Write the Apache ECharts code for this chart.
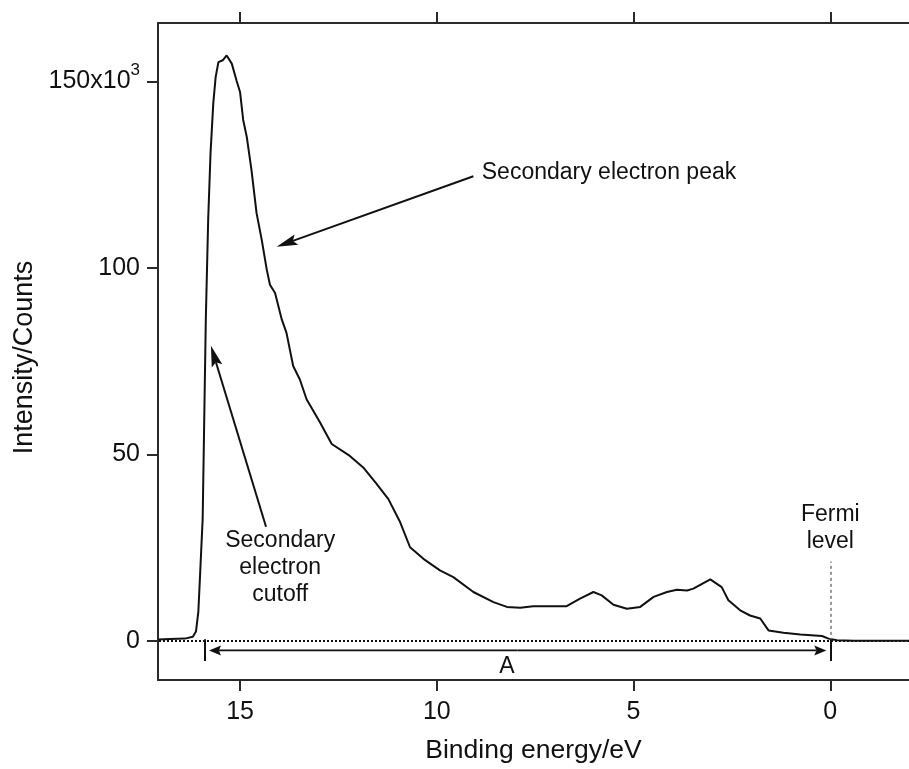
<!DOCTYPE html>
<html><head><meta charset="utf-8">
<script src="https://cdn.jsdelivr.net/npm/echarts@6/dist/echarts.min.js"></script>
<style>html,body{margin:0;padding:0;background:#fff}#c{width:909px;height:769px}</style>
</head><body><div id="c"></div>
<script>
// Binding energy (eV) and intensity (x10^3 counts)
const energy = [17.08,16.78,16.40,16.20,16.12,16.06,16.02,15.95,15.91,15.87,15.81,15.75,15.68,15.62,15.55,15.44,15.34,15.21,15.09,15.00,14.92,14.83,14.71,14.58,14.45,14.32,14.24,14.11,13.94,13.82,13.65,13.48,13.31,12.97,12.67,12.21,11.87,11.53,11.23,10.93,10.68,10.34,9.92,9.58,9.07,8.56,8.22,7.88,7.55,6.70,6.36,6.02,5.81,5.51,5.17,4.83,4.49,4.15,3.90,3.64,3.48,3.05,2.76,2.59,2.29,2.04,1.78,1.57,1.19,0.76,0.21,0.045,-0.17,-0.59,-2.0];
const intensity = [0.35,0.5,0.6,1.1,2.5,7.8,16.7,32.7,59.4,86.2,112.9,130.8,144.2,151.2,155.2,155.7,157.0,154.8,150.3,147.2,139.7,135.2,126.3,114.7,107.6,99.5,95.5,93.3,86.2,82.6,73.7,70.1,64.8,58.6,52.8,49.6,46.5,42.1,38.0,31.8,25.1,22.0,18.9,17.1,13.1,10.4,9.1,8.9,9.3,9.3,11.3,13.1,12.2,9.7,8.6,9.1,11.8,13.1,13.7,13.5,14.0,16.5,14.4,10.9,8.2,6.8,6.0,2.8,2.2,1.7,1.3,0.6,0.15,0,0];
const xTicks = [0,5,10,15];
const yTicks = [0,50,100,150];
const xRange = [-2.0, 17.085];
const yRange = [-10.5, 165.7];

// annotation anchors in data coordinates [energy, intensity]
const peakArrow = [[9.07,124.6],[14.07,105.7]];
const cutoffArrow = [[14.34,30.6],[15.74,79.15]];
const peakLabel = {text:'Secondary electron peak', at:[8.857,125.6]};
const cutoffLabel = {text:'Secondary\nelectron\ncutoff', at:[13.98,19.7]};
const fermiLabel = {text:'Fermi\nlevel', at:[0,30.1]};
const fermiLine = [[0,0],[0,21.3]];
const spanA = {from:15.89, to:0, level:-2.56, barTop:0.4, barBottom:-5.4, label:'A', labelAt:[8.22,-7.0]};

const FONT = "'Liberation Sans', Arial, Helvetica, sans-serif";
const INK = '#111';
const chart = echarts.init(document.getElementById('c'), null, {renderer:'canvas'});

const axisLineStyle = {color:'#2a2a2a', width:2};
chart.setOption({
  animation:false,
  backgroundColor:'#fff',
  grid:{left:158, top:23, width:751, height:659, containLabel:false},
  xAxis:[{
    type:'value', position:'bottom', inverse:true, min:xRange[0], max:xRange[1],
    axisLine:{show:true, onZero:false, lineStyle:axisLineStyle},
    axisTick:{show:true, inside:false, length:11, lineStyle:{color:'#2a2a2a', width:2}, customValues:xTicks},
    axisLabel:{show:true, margin:20, fontSize:25, color:INK, fontFamily:FONT, customValues:xTicks},
    splitLine:{show:false},
    name:'Binding energy/eV', nameLocation:'middle', nameGap:57,
    nameTextStyle:{fontSize:26.5, color:INK, fontFamily:FONT}
  },{
    type:'value', position:'top', inverse:true, min:xRange[0], max:xRange[1],
    axisLine:{show:true, onZero:false, lineStyle:axisLineStyle},
    axisTick:{show:true, inside:false, length:11, lineStyle:{color:'#2a2a2a', width:2}, customValues:xTicks},
    axisLabel:{show:false}, splitLine:{show:false}
  }],
  yAxis:[{
    type:'value', position:'left', min:yRange[0], max:yRange[1],
    axisLine:{show:true, onZero:false, lineStyle:axisLineStyle},
    axisTick:{show:true, inside:false, length:11, lineStyle:{color:'#2a2a2a', width:2}, customValues:yTicks},
    axisLabel:{show:true, margin:18, fontSize:25, color:INK, fontFamily:FONT, customValues:yTicks,
      formatter:function(v){ return v===150 ? '{a|150x10}{s|3}' : String(v); },
      rich:{a:{fontSize:25, color:INK, fontFamily:FONT}, s:{fontSize:17, color:INK, fontFamily:FONT, padding:[0,0,22,0]}}
    },
    splitLine:{show:false},
    name:'Intensity/Counts', nameLocation:'middle', nameGap:119, nameRotate:90,
    nameTextStyle:{fontSize:27, color:INK, fontFamily:FONT, padding:[0,12,0,0]}
  }],
  series:[{
    type:'line', name:'Spectrum', xAxisIndex:0, yAxisIndex:0,
    data: energy.map((e,i)=>[e,intensity[i]]),
    showSymbol:false, smooth:false,
    lineStyle:{color:INK, width:2},
    z:3,
    markLine:{
      silent:true, symbol:'none', animation:false, label:{show:false},
      data:[
        {yAxis:0, lineStyle:{type:[2,2], width:2, color:INK}},
        [{coord:fermiLine[0], lineStyle:{type:[3,3], width:1.5, color:'#777'}},{coord:fermiLine[1]}],
        [{coord:[spanA.from, spanA.barTop], lineStyle:{type:'solid', width:2, color:INK}},{coord:[spanA.from, spanA.barBottom]}],
        [{coord:[spanA.to, spanA.barTop], lineStyle:{type:'solid', width:2, color:INK}},{coord:[spanA.to, spanA.barBottom]}]
      ]
    }
  }]
});

function P(p){ return chart.convertToPixel({xAxisIndex:0, yAxisIndex:0}, p); }

function arrowEls(fromPx, toPx, L, W, lw){
  const dx = toPx[0]-fromPx[0], dy = toPx[1]-fromPx[1];
  const len = Math.hypot(dx,dy); const ux = dx/len, uy = dy/len;
  const nx = -uy, ny = ux;
  const bx = toPx[0]-ux*L, by = toPx[1]-uy*L;
  const nxp = toPx[0]-ux*L*0.82, nyp = toPx[1]-uy*L*0.82;
  return [
    {type:'line', shape:{x1:fromPx[0], y1:fromPx[1], x2:nxp, y2:nyp}, style:{stroke:INK, lineWidth:lw}, z:10, silent:true},
    {type:'polygon', shape:{points:[[toPx[0],toPx[1]],[bx+nx*W, by+ny*W],[nxp,nyp],[bx-nx*W, by-ny*W]]}, style:{fill:INK}, z:10, silent:true}
  ];
}

function textEl(t, px, align){
  return {type:'text', x:px[0], y:px[1], z:10, silent:true,
    style:{text:t, fontSize:23, fontFamily:FONT, fill:INK, align:align||'center', verticalAlign:'middle', lineHeight:27}};
}

const els = [];
els.push(...arrowEls(P(peakArrow[0]), P(peakArrow[1]), 21, 5.5, 2));
els.push(...arrowEls(P(cutoffArrow[0]), P(cutoffArrow[1]), 21, 5.5, 2));
// double arrow for A
const aMid = P([(spanA.from+spanA.to)/2, spanA.level]);
const aL = P([spanA.from, spanA.level]), aR = P([spanA.to, spanA.level]);
const aLt = [aL[0]+4, aL[1]], aRt = [aR[0]-4, aR[1]];
els.push(...arrowEls(aMid, aLt, 12, 5, 1.6));
els.push(...arrowEls(aMid, aRt, 12, 5, 1.6));
els.push(textEl(peakLabel.text, P(peakLabel.at), 'left'));
els.push(textEl(cutoffLabel.text, P(cutoffLabel.at)));
els.push(textEl(fermiLabel.text, P(fermiLabel.at)));
els.push(textEl(spanA.label, P(spanA.labelAt)));
chart.setOption({graphic:els});
</script>
</body></html>
